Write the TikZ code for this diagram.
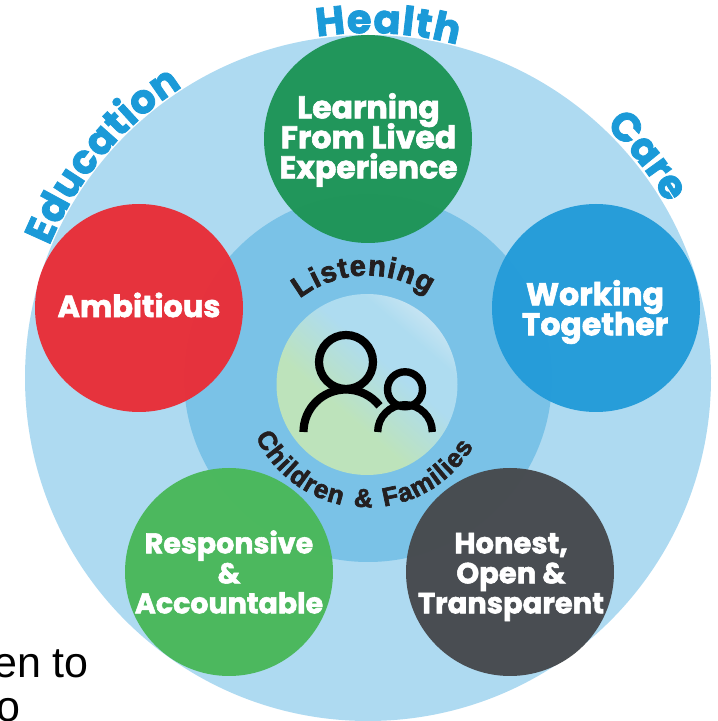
\documentclass[tikz,border=0pt]{standalone}
\usepackage{fontspec}
\usetikzlibrary{decorations.text}
\setmainfont{Liberation Sans}
\newfontfamily\heavyf{Poppins}[BoldFeatures={FakeBold=2}]
\newcommand{\heavy}{\heavyf\bfseries}
\newfontfamily\blackf{Liberation Sans}[BoldFeatures={FakeBold=2.5}]
\newcommand{\blackb}{\blackf\bfseries}
\lineskiplimit=-50pt
\definecolor{bigc}{HTML}{AEDAF1}
\definecolor{innerc}{HTML}{7AC2E7}
\definecolor{topg}{HTML}{1F9558}
\definecolor{redc}{HTML}{E8303A}
\definecolor{bluec}{HTML}{259CD9}
\definecolor{greenc}{HTML}{4BB85C}
\definecolor{darkc}{HTML}{474B4F}
\definecolor{wordc}{HTML}{1B9AD8}
\definecolor{inkc}{HTML}{231F20}
\definecolor{mida}{HTML}{BDE3BB}
\definecolor{midb}{HTML}{AEDCF0}
\definecolor{midc}{HTML}{DCEBF4}
\pgfdeclareverticalshading{midshade}{100bp}{
 color(0bp)=(mida);
 color(40bp)=(mida);
 color(58bp)=(midb);
 color(68bp)=(midb);
 color(82bp)=(midc);
 color(100bp)=(midc)}
\tikzset{
 x=1pt,y=1pt,
 valuedisc/.style={circle,minimum size=208pt,inner sep=0pt,fill opacity=.98},
 valuetext/.style={inner sep=0pt,text=white,align=center,font=\heavy\fontsize{#1}{30}\selectfont},
 person/.style={draw=black,line width=8.2pt},
 arcword/.style={decorate,decoration={text along path,text align=fit to path,text={#1}}}
}
\begin{document}
\begin{tikzpicture}
\useasboundingbox (0,0) rectangle (718,721);
\clip (0,0) rectangle (718,721);
\node[circle,fill=bigc,minimum size=686pt,inner sep=0pt] (big) at (368,343) {};
\node[circle,fill=innerc,minimum size=368pt,inner sep=0pt] (inner) at (368,343) {};
\shade[shading=midshade,shading angle=-41] (367,336.5) circle[radius=90.5];
\node[circle,minimum size=181pt,inner sep=0pt] (mid) at (367,336.5) {};
\node[valuedisc,fill=topg] (learn) at (368,582) {};
\node[valuedisc,fill=redc] (amb) at (139,413) {};
\node[valuedisc,fill=bluec] (work) at (596,413) {};
\node[valuedisc,fill=greenc] (resp) at (229,149) {};
\node[valuedisc,fill=darkc] (hon) at (510,149) {};
\node[valuetext=31.5] (learnt) at (368.5,581) {Learning\\From Lived\\Experience};
\node[valuetext=30.5] (ambt) at (139,416) {Ambitious};
\node[valuetext=31.5] (workt) at (595,409) {Working\\Together};
\node[valuetext=28.5] (respt) at (229,149) {Responsive\\\&\\Accountable};
\node[valuetext=29] (hont) at (511,144) {Honest,\\Open \&\\Transparent};
% curved words
\path[arcword={|\heavy\fontsize{40}{40}\selectfont\color{wordc}|Education}] ([shift={(368,343)}]157.5:345) arc[start angle=157.5,end angle=122.5,radius=345];
\path[arcword={|\heavy\fontsize{40}{40}\selectfont\color{wordc}|Health}] ([shift={(368,343)}]98.5:345) arc[start angle=98.5,end angle=75,radius=345];
\path[arcword={|\heavy\fontsize{40}{40}\selectfont\color{wordc}|Care}] ([shift={(368,343)}]46.7:346) arc[start angle=46.7,end angle=31,radius=346];
\path[arcword={|\blackb\fontsize{29}{29}\selectfont\color{inkc}|Listening}] ([shift={(367,336.5)}]128:109) arc[start angle=128,end angle=56,radius=109];
\path[arcword={|\blackb\fontsize{26}{26}\selectfont\color{inkc}|Children}] ([shift={(367,336.5)}]205:123) arc[start angle=205,end angle=258,radius=123];
\node[rotate=-3,inner sep=0pt,text=inkc,font=\blackb\fontsize{26}{26}\selectfont,anchor=base] (amp) at (363,214) {\&};
\path[arcword={|\blackb\fontsize{26}{26}\selectfont\color{inkc}|Families}] ([shift={(367,336.5)}]278:123) arc[start angle=278,end angle=330,radius=123];
% icon
\draw[person] (346,359) circle[radius=27];
\draw[person] (303.5,289) arc[start angle=180,end angle=38,radius=42.5];
\draw[person,line width=7.4pt] (405,331.7) circle[radius=17.5];
\draw[person,line width=7.4pt] (377.7,289) arc[start angle=180,end angle=0,radius=27.3];
% cut-off text
\node[anchor=base east,inner sep=0pt,font=\fontsize{43}{43}\selectfont] (line1) at (89,43) {en to};
\node[anchor=base east,inner sep=0pt,font=\fontsize{43}{43}\selectfont] (line2) at (21,-1) {o};
\end{tikzpicture}
\end{document}
